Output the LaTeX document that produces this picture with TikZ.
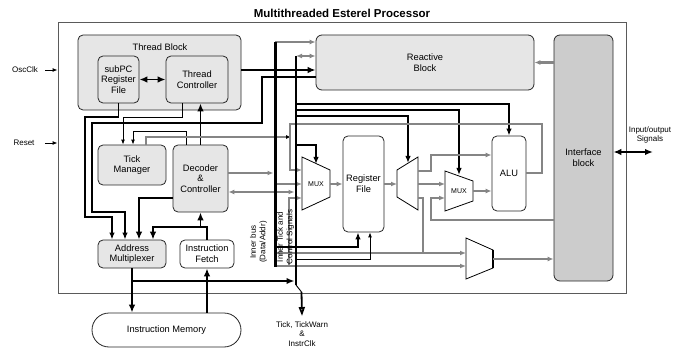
\documentclass[tikz,border=0pt]{standalone}
\usepackage{fontspec}
\setmainfont{Liberation Sans}
\usetikzlibrary{arrows.meta}
\definecolor{boxgray}{HTML}{E6E6E6}
\definecolor{ifgray}{HTML}{CCCCCC}
\definecolor{wire}{HTML}{858585}
\definecolor{frame}{HTML}{5A5A5A}
\newcommand{\bxfont}{\fontsize{9.3}{10.8}\selectfont}
\newcommand{\lblfont}{\fontsize{8}{9.5}\selectfont}
\newcommand{\muxfont}{\fontsize{7}{8}\selectfont}
\newcommand{\ttlfont}{\fontsize{11.5}{13}\selectfont\bfseries}

\begin{document}
\begin{tikzpicture}[x=1pt,y=-1pt,
	blk/.style={draw=black!85, line width=0.8pt, rounded corners=5pt,
		fill=boxgray, align=center, font=\bxfont, inner sep=0pt},
	wbox/.style={blk, fill=white},
	muxsty/.style={draw=black, line width=0.8pt, fill=white},
	bus/.style={line width=1.8pt, >={Latex[length=8pt,width=6.5pt]}},
	sel/.style={line width=1.7pt, >={Latex[length=7pt,width=5.5pt]}},
	mid/.style={line width=1.4pt, >={Latex[length=7pt,width=5.5pt]}},
	ctl/.style={line width=0.9pt, >={Latex[length=5pt,width=4pt]}},
	gw/.style={draw=wire, line width=2.2pt, >={Latex[length=6pt,width=5pt]}},
	gwt/.style={draw=wire, line width=1.3pt, >={Latex[length=5pt,width=4pt,black]}},
	]
	\useasboundingbox (0,0) rectangle (683,350);

	% frame and title
	\node[draw=frame, line width=0.9pt, minimum width=568pt, minimum height=271pt,
		inner sep=0pt] (proc) at (342,157.5) {};
	\node[font=\ttlfont] (title) at (342,13) {Multithreaded Esterel Processor};

	% blocks
	\node[blk, minimum width=163pt, minimum height=75pt] (thr) at (159.5,72.5) {};
	\node[font=\bxfont] (thrlbl) at (160,47) {Thread Block};
	\node[blk, minimum width=41pt, minimum height=47pt] (spc) at (118.5,79.5) {subPC\\Register\\File};
	\node[blk, minimum width=62pt, minimum height=47pt] (tctl) at (197,79.5) {Thread\\Controller};
	\node[blk, minimum width=68pt, minimum height=40pt] (tick) at (132,165) {Tick\\Manager};
	\node[blk, minimum width=55pt, minimum height=67pt] (dec) at (200.5,178.5) {Decoder\\\&\\Controller};
	\node[blk, minimum width=68pt, minimum height=28pt] (amux) at (132,254) {Address\\Multiplexer};
	\node[wbox, minimum width=54pt, minimum height=28pt] (ifet) at (207,254) {Instruction\\Fetch};
	\node[wbox, rounded corners=17pt, minimum width=149pt, minimum height=34pt] (imem) at (166.5,330) {Instruction Memory};
	\node[blk, rounded corners=6pt, minimum width=218pt, minimum height=55pt] (react) at (425,62.5) {Reactive\\Block};
	\node[blk, rounded corners=6pt, fill=ifgray, minimum width=59pt, minimum height=246pt] (iface) at (583.5,158) {Interface\\block};
	\node[wbox, minimum width=41pt, minimum height=96pt] (rf) at (363.5,184) {Register\\File};
	\node[wbox, minimum width=34pt, minimum height=75pt] (alu) at (509,173.5) {ALU};

	% multiplexers
	\draw[muxsty] (302,157) -- (330,170) -- (330,197) -- (302,210) -- cycle;
	\node[font=\muxfont] (mux1) at (316,184) {MUX};
	\draw[muxsty] (397,170) -- (418,157) -- (418,210) -- (397,197) -- cycle;
	\draw[muxsty] (445,171) -- (473,181) -- (473,201) -- (445,211) -- cycle;
	\node[font=\muxfont] (mux2) at (459,191) {MUX};
	\draw[muxsty] (466,238) -- (493,250) -- (493,268) -- (466,279) -- cycle;
	\draw[line width=1.8pt] (493,250) -- (493,268);
	\coordinate (mux1sel) at (316,164);
	\coordinate (dmxsel) at (408,163);
	\coordinate (mux2sel) at (459,175);

	% buses
	\coordinate (ibtop) at (275,42);
	\coordinate (ibbot) at (275,267);
	\coordinate (tbtop) at (296,56);
	\coordinate (tbbot) at (296,285);

	% clock and reset
	\node[font=\lblfont] (osc) at (25,70) {OscClk};
	\draw[ctl,->] ([xshift=4pt]osc.east) -- (osc.east -| proc.west);
	\node[font=\lblfont] (rst) at (24,143) {Reset};
	\draw[ctl,->] ([xshift=7pt]rst.east) -- (rst.east -| proc.west);

	% thread block
	\draw[bus,<->] (spc.east) -- (tctl.west);
	\draw[bus,->] (thr.east |- 0,70) -- (react.west |- 0,70);
	\draw[mid,->] (react.west |- 0,77) -| (262,123) -| (92,212) -| (amux.north -| 125,0);
	\draw[mid,->] (spc.south) |- (85,117) |- (112,217) -- (amux.north -| 112,0);
	\draw[ctl,->] (tctl.south -| 182,0) |- (123,117) -- (tick.north -| 123,0);

	% decoder and tick manager
	\draw[ctl,->] (dec.north -| 186,0) |- (133,131) -- (tick.north -| 133,0);
	\draw[bus,->] (dec.north) -- (tctl.south -| dec.north);
	\draw[gwt,->] (tick.north -| 146,0) |- (291,137);
	\draw[gw,->] (dec.east |- 0,173) -- (273.5,173);
	\draw[gw,<->] (dec.east |- 0,192) -- (294.5,192);
	\draw[bus,->] (dec.west |- 0,198) -| (amux.north -| 139,0);

	% fetch and memory
	\draw[bus,->] (ifet.north) |- (dec.south |- 0,227) -- (dec.south);
	\draw[bus,->] (dec.south |- 0,227) -| (amux.north -| 153,0);
	\draw[bus,->] (amux.south) -- (imem.north -| amux.south);
	\draw[bus,->] (amux.south |- 0,281) -- (294.5,281);
	\draw[bus,->] (imem.north -| ifet.south) -- (ifet.south);

	% reactive and interface
	\draw[gw,->] (ibtop) -- (react.west |- ibtop);
	\draw[gw,<->] (tbtop) -- (react.west |- tbtop);
	\draw[gw,->] (iface.west |- react) -- (react.east);
	\draw[bus,<->] (iface.east |- 0,152) -- (653,152);
	\node[font=\lblfont, align=center] (io) at (650,135) {Input/output\\Signals};

	% select lines
	\draw[sel,->] (tbtop |- 0,104) -| (alu.north);
	\draw[sel,->] (tbtop |- 0,110) -| (mux2sel);
	\draw[sel,->] (tbtop |- 0,116) -| (dmxsel);
	\draw[sel,->] (tbtop |- 0,145) -| (mux1sel);

	% datapath
	\draw[gw,->] (alu.east |- 0,173) -| (542,124) -| (290,170) -- (302,170);
	\draw[gw,->] (ibtop |- 0,184) -- (302,184);
	\draw[gw,->] (289,266) |- (302,198);
	\draw[gw,->] (330,184) -- (rf.west);
	\draw[gw,->] (rf.east) -- (397,184);
	\draw[gw,->] (418,171) -| (431,155) -- (alu.west |- 0,155);
	\draw[gw,->] (418,184) -- (445,184);
	\draw[gw] (418,198) -| (423,253);
	\draw[gw,->] (iface.west |- 0,220) -| (431,198) -- (445,198);
	\draw[gw,->] (473,191) -- (alu.west |- 0,191);
	\draw[gw,->] (ibtop |- 0,253) -- (466,253);
	\draw[gw,->] (ibtop |- 0,266) -- (466,266);
	\draw[gw,->] (493,259) -- (iface.west |- 0,259);
	\draw[sel,->] (ibtop |- 0,247) -| (rf.south -| 358,0);
	\draw[ctl,->] (tbtop |- 0,259) -| (rf.south -| 370,0);

	% inner buses
	\draw[line width=3pt] (ibtop) -- (ibbot);
	\draw[line width=2.4pt] (tbtop) -- (tbbot);
	\node[font=\lblfont, align=center] (tk) at (302,334) {Tick, TickWarn\\\&\\InstrClk};
	\draw[ctl] (tbbot) -- (301.5,292);
	\draw[line width=1.8pt, -{Triangle[open,length=9pt,width=6pt]}] (301.5,292) -- ([yshift=2pt]tk.north);
	\node[rotate=90, font=\lblfont, align=center] (iblbl) at (258.5,242) {Inner bus\\(Data/Addr)};
	\node[rotate=90, font=\lblfont, align=center] (tblbl) at (285.5,237) {Inner Tick and\\Control Signals};
\end{tikzpicture}
\end{document}
